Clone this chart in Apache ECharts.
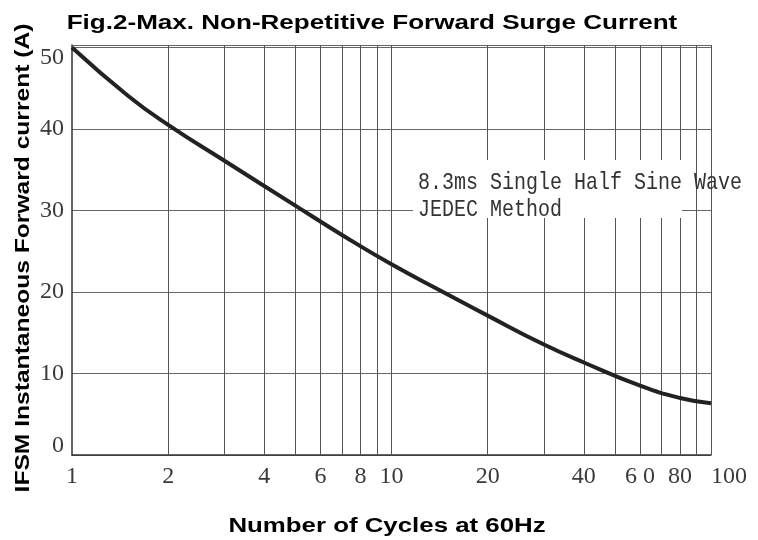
<!DOCTYPE html>
<html>
<head>
<meta charset="utf-8">
<script src="https://cdn.jsdelivr.net/npm/echarts@6/dist/echarts.min.js"></script>
<style>html,body{margin:0;padding:0;background:#fff;}#c{width:758px;height:540px;}</style>
</head>
<body>
<div id="c"></div>
<script>
const titleText = 'Fig.2-Max. Non-Repetitive Forward Surge Current';
const xAxisTitle = 'Number of Cycles at 60Hz';
const yAxisTitle = 'IFSM Instantaneous Forward current (A)';
const noteLines = ['8.3ms Single Half Sine Wave', 'JEDEC Method'];

const cycles = [1, 1.5, 2, 3, 5, 7, 10, 15, 20, 30, 40, 60, 80, 100];
const surgeCurrent = [50, 44.05, 40.5, 36.1, 30.6, 27.0, 23.4, 19.7, 17.1, 13.55, 11.35, 8.5, 7.0, 6.35];

const xTickValues = [1, 2, 4, 6, 8, 10, 20, 40, 60, 80, 100];
const xTickLabels = ['1', '2', '4', '6', '8', '10', '20', '40', '6 0', '80', '100'];
const xGridValues = [2, 3, 4, 5, 6, 7, 8, 9, 10, 20, 30, 40, 50, 60, 70, 80, 90, 100];
const yTickValues = [0, 10, 20, 30, 40, 50];

const chart = echarts.init(document.getElementById('c'), null, {renderer: 'canvas'});
const tickFont = {fontFamily: 'Liberation Serif', fontSize: 24, color: '#3a3a3a'};
const boldFont = {fontFamily: 'Liberation Sans', fontWeight: 'bold', fontSize: 21, fill: '#000', align: 'center', verticalAlign: 'middle'};

chart.setOption({
  animation: false,
  backgroundColor: '#fff',
  grid: {left: 72, right: 47, top: 45, bottom: 85, containLabel: false},
  xAxis: {
    type: 'log', logBase: 10, min: 1, max: 100,
    axisLine: {show: true, lineStyle: {color: '#333', width: 1.5}},
    axisTick: {show: false},
    splitLine: {show: false},
    axisLabel: Object.assign({
      customValues: xTickValues,
      margin: 10,
      alignMaxLabel: 'left',
      formatter: function (v) {
        const i = xTickValues.findIndex(t => Math.abs(t - v) < 1e-6);
        return i >= 0 ? xTickLabels[i] : '';
      }
    }, tickFont)
  },
  yAxis: {
    type: 'value', min: 0, max: 50.3, interval: 10,
    axisLine: {show: true, lineStyle: {color: '#333', width: 1.5}},
    axisTick: {show: false},
    splitLine: {show: true, lineStyle: {color: '#666', width: 1}},
    axisLabel: Object.assign({
      margin: 8,
      showMaxLabel: false,
      formatter: function (v) {
        if (yTickValues.indexOf(v) < 0) return '';
        if (v === 0) return '{lo|' + v + '}';
        if (v === 50) return '{hi|' + v + '}';
        return String(v);
      },
      rich: {
        lo: Object.assign({padding: [0, 0, 18, 0]}, tickFont),
        hi: Object.assign({padding: [20, 0, 0, 0]}, tickFont)
      }
    }, tickFont)
  },
  series: [{
    type: 'line',
    data: cycles.map((c, i) => [c, surgeCurrent[i]]),
    smooth: 0.5,
    showSymbol: false,
    symbol: 'none',
    lineStyle: {color: '#222', width: 4},
    z: 5,
    markLine: {
      silent: true,
      symbol: ['none', 'none'],
      label: {show: false},
      lineStyle: {color: '#555', width: 1, type: 'solid'},
      emphasis: {disabled: true},
      z: 1,
      data: xGridValues.map(v => ({xAxis: v}))
    }
  }],
  graphic: [
    {type: 'text', z: 101, x: 372, y: 23, scaleX: 1.24, style: Object.assign({text: titleText}, boldFont)},
    {type: 'text', z: 101, x: 387, y: 526, scaleX: 1.23, style: Object.assign({text: xAxisTitle}, boldFont)},
    {type: 'text', z: 101, x: 23, y: 258, rotation: Math.PI / 2, scaleX: 1.23, style: Object.assign({text: yAxisTitle}, boldFont, {fontSize: 20})},
    {type: 'rect', z: 100, shape: {x: 413, y: 160, width: 269, height: 58}, style: {fill: '#fff'}},
    {type: 'text', z: 101, x: 418, y: 183, scaleY: 1.2, style: {text: noteLines[0], fontFamily: 'Liberation Mono', fontSize: 20, fill: '#333', verticalAlign: 'middle', align: 'left'}},
    {type: 'text', z: 101, x: 418, y: 210, scaleY: 1.2, style: {text: noteLines[1], fontFamily: 'Liberation Mono', fontSize: 20, fill: '#333', verticalAlign: 'middle', align: 'left'}}
  ]
});
</script>
</body>
</html>
